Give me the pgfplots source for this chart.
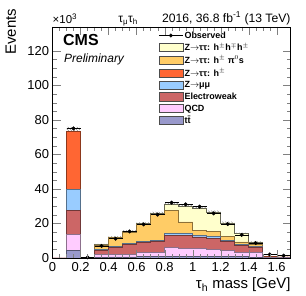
\documentclass[border=0pt]{standalone}
\usepackage{fontspec}
\setmainfont{Liberation Sans}
\usepackage{pgfplots}
\usepackage{pgfplotstable}
\pgfplotsset{compat=1.18}
\usetikzlibrary{patterns}
\usepgfplotslibrary{fillbetween}
\definecolor{cthree}{HTML}{FFFFCC}
\definecolor{chpi}{HTML}{FFCC66}
\definecolor{ch}{HTML}{FF6633}
\definecolor{czmm}{HTML}{99CCFF}
\definecolor{cew}{HTML}{CC6666}
\definecolor{cqcd}{HTML}{FFCCFF}
\definecolor{ctt}{HTML}{9999CC}
\pgfplotstableread{
x   tt   qcd  ew   zmm  ha    hb   hc   lo    hi
0.0 0    0    0    0    0     0    0    0     0
0.1 4.4  13.5 27.5 39.6 73.5  73.5 73.5 71.8  75.9
0.2 0    0    0.05 0.05 0.1   0.1  0.1  0.05  0.15
0.3 0.5  1.9  4.5  4.9  4.95  7.6  7.7  7.3   8.1
0.4 0.6  1.9  6.0  6.7  6.75  11.8 12.1 11.6  12.6
0.5 0.6  2.1  7.7  8.2  8.25  15.0 15.4 14.8  16.0
0.6 0.8  3.0  8.9  9.4  9.45  19.4 19.9 19.2  20.6
0.7 0.9  3.4  9.7  10.3 10.35 25.0 25.7 24.8  26.6
0.8 1.0  6.3  13.1 14.0 14.05 27.6 30.8 29.8  31.8
0.9 1.0  5.7  13.1 14.0 14.05 20.8 30.0 29.0  31.0
1.0 1.0  5.3  12.1 13.0 13.05 16.0 28.8 27.9  29.7
1.1 0.9  5.0  11.5 12.3 12.35 15.5 26.5 25.6  27.4
1.2 0.9  4.4  9.7  10.2 10.25 12.3 20.3 19.6  21.0
1.3 0.8  3.4  7.4  7.8  7.85  9.2  14.0 13.5  14.5
1.4 0.5  3.0  6.4  6.7  6.75  8.0  9.3  9.0   9.6
1.5 0.05 0.1  0.4  0.45 0.8   0.8  0.8  0.75  0.85
1.6 0.05 0.1  0.3  0.35 0.6   0.6  0.6  0.55  0.65
1.7 0.05 0.1  0.3  0.35 0.6   0.6  0.6  0.55  0.65
}\stack
\pgfplotstableread{
x    y    ex
0.15 75.0 0.05
0.25 0.3  0.05
0.35 6.9  0.05
0.45 11.1 0.05
0.55 15.3 0.05
0.65 19.4 0.05
0.75 25.1 0.05
0.85 32.0 0.05
0.95 31.0 0.05
1.05 29.7 0.05
1.15 25.8 0.05
1.25 19.6 0.05
1.35 13.3 0.05
1.45 8.6  0.05
1.55 2.0  0.05
1.65 1.3  0.05
}\obs
\pgfplotsset{
  boxleg/.style={legend image code/.code={\draw[##1] (0cm,-0.13cm) rectangle (0.85cm,0.16cm);}},
}
\begin{document}
\begin{tikzpicture}
\begin{axis}[
  name=ax,
  scale only axis,
  width=238bp, height=231bp,
  xmin=0, xmax=1.7, ymin=0, ymax=134,
  clip=false,
  axis on top,
  tick align=inside,
  major tick length=8bp, minor tick length=4bp,
  xtick={0,0.2,...,1.6}, minor x tick num=3,
  ytick={0,20,...,120}, minor y tick num=3,
  tick label style={font=\fontsize{13}{15}\selectfont},
  /pgf/number format/assume math mode=true,
  xticklabel style={yshift=-1bp},
  legend style={draw=none, fill=none, at={(rel axis cs:0.44,0.99)}, anchor=north west,
    font=\fontsize{9}{10}\selectfont\bfseries, row sep=1.1bp, inner sep=1pt,
    nodes={inner sep=1.3pt}},
  legend cell align=left,
]
% legend entries
\addlegendimage{legend image code/.code={\draw[black,line width=0.6pt] (0cm,0cm)--(0.85cm,0cm); \fill[black] (0.425cm,0cm) circle (1.8pt);}}
\addlegendentry{Observed}
\addlegendimage{boxleg, fill=cthree, draw=black!70}
\addlegendentry{Z$\rightarrow$ττ: h$^{\pm}$h$^{\mp}$h$^{\pm}$}
\addlegendimage{boxleg, fill=chpi, draw=black!70}
\addlegendentry{Z$\rightarrow$ττ: h$^{\pm}$ π$^{0}$s}
\addlegendimage{boxleg, fill=ch, draw=black!70}
\addlegendentry{Z$\rightarrow$ττ: h$^{\pm}$}
\addlegendimage{boxleg, fill=czmm, draw=black!70}
\addlegendentry{Z$\rightarrow$μμ}
\addlegendimage{boxleg, fill=cew, draw=black!70}
\addlegendentry{Electroweak}
\addlegendimage{boxleg, fill=cqcd, draw=black!70}
\addlegendentry{QCD}
\addlegendimage{boxleg, fill=ctt, draw=black!70}
\addlegendentry{t\={t}}
% stacked histograms (cumulative)
\addplot[const plot, fill=cthree, draw=cthree!40!black, line width=0.5pt, forget plot] table[x=x,y=hc]{\stack} \closedcycle;
\addplot[const plot, fill=chpi, draw=chpi!55!black, line width=0.5pt, forget plot] table[x=x,y=hb]{\stack} \closedcycle;
\addplot[const plot, fill=ch, draw=ch!55!black, line width=0.5pt, forget plot] table[x=x,y=ha]{\stack} \closedcycle;
\addplot[const plot, fill=czmm, draw=czmm!55!black, line width=0.5pt, forget plot] table[x=x,y=zmm]{\stack} \closedcycle;
\addplot[const plot, fill=cew, draw=cew!55!black, line width=0.5pt, forget plot] table[x=x,y=ew]{\stack} \closedcycle;
\addplot[const plot, fill=cqcd, draw=cqcd!55!black, line width=0.5pt, forget plot] table[x=x,y=qcd]{\stack} \closedcycle;
\addplot[const plot, fill=ctt, draw=ctt!55!black, line width=0.5pt, forget plot] table[x=x,y=tt]{\stack} \closedcycle;
% uncertainty band
\addplot[name path=hi, draw=none, const plot, forget plot] table[x=x,y=hi]{\stack};
\addplot[name path=lo, draw=none, const plot, forget plot] table[x=x,y=lo]{\stack};
\addplot[pattern=north west lines, pattern color=black!55, draw=none, forget plot] fill between[of=hi and lo];
% observed
\addplot[only marks, mark=*, mark size=1.8pt, black, forget plot,
  error bars/.cd, x dir=both, x explicit, error mark=none,
  error bar style={line width=0.6pt, black}]
  table[x=x, y=y, x error=ex]{\obs};
% annotations
\node[anchor=south west, font=\fontsize{11.5}{12}\selectfont, inner sep=0pt] at ([yshift=3bp]rel axis cs:0,1) {×10\textsuperscript{3}};
\node[anchor=base, font=\fontsize{12}{14}\selectfont, inner sep=0pt] at ([yshift=4bp]rel axis cs:0.317,1) {τ\textsubscript{μ}τ\textsubscript{h}};
\node[anchor=base east, font=\fontsize{12.2}{14}\selectfont, inner sep=0pt] at ([yshift=4.5bp]rel axis cs:1,1) {2016, 36.8 fb\textsuperscript{-1} (13 TeV)};
\node[anchor=north west, font=\fontsize{16}{18}\selectfont\bfseries, inner sep=0pt] at (rel axis cs:0.044,0.968) {CMS};
\node[anchor=north west, font=\fontsize{12}{14}\selectfont\itshape, inner sep=0pt] at (rel axis cs:0.048,0.885) {Preliminary};
\node[anchor=north east, font=\fontsize{15}{17}\selectfont, inner sep=0pt] at ([yshift=-20bp]rel axis cs:1,0) {τ\textsubscript{h} mass [GeV]};
\node[rotate=90, anchor=north east, font=\fontsize{15}{17}\selectfont, inner sep=0pt] at ([xshift=-47bp,yshift=18bp]rel axis cs:0,1) {Events};
\end{axis}
\path ([shift={(-52.5bp,-37.5bp)}]ax.south west) rectangle ([shift={(15.3bp,26.7bp)}]ax.north east);
\end{tikzpicture}
\end{document}
